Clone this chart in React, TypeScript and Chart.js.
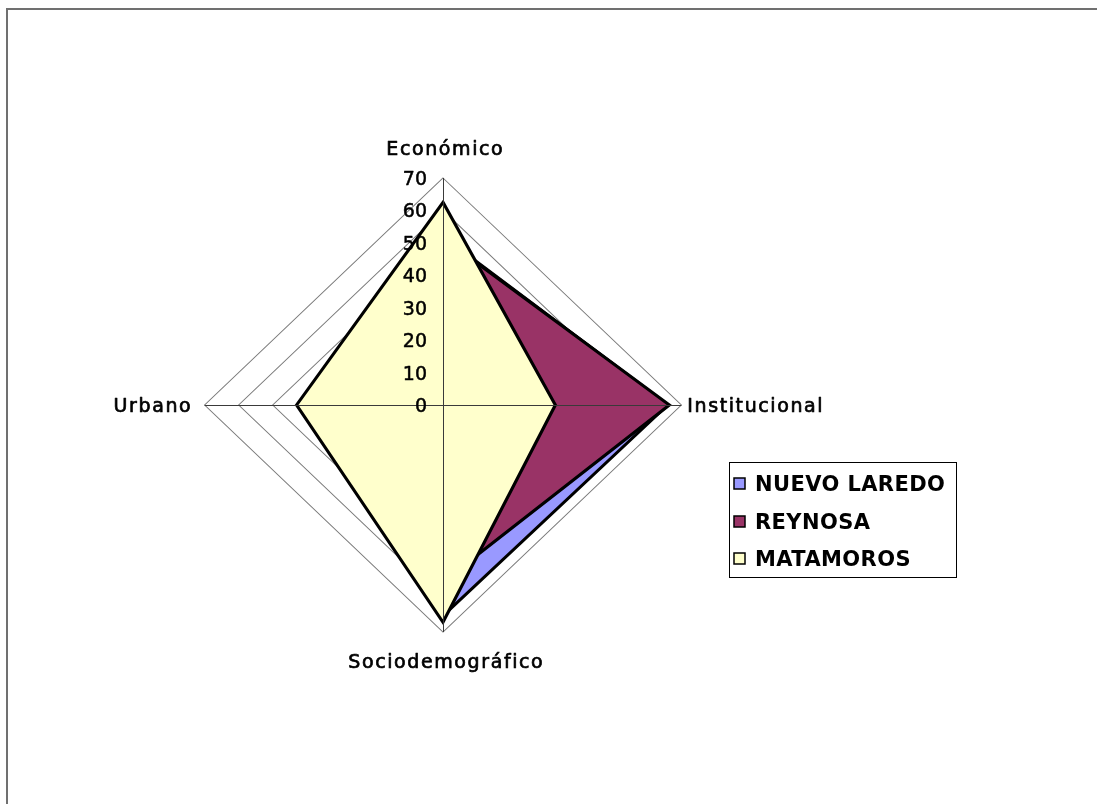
import React, { useEffect, useRef } from 'react';
import { Chart, registerables } from 'chart.js';

Chart.register(...registerables);

// ---- data ----
const CATEGORIES = ['Económico', 'Institucional', 'Sociodemográfico', 'Urbano'];
const SERIES_NAMES = ['NUEVO LAREDO', 'REYNOSA', 'MATAMOROS'];
const NUEVO_LAREDO = [52, 66, 65, 38];
const REYNOSA = [51.5, 66.5, 54.5, 40];
const MATAMOROS = [62.5, 33, 67, 43];
const TICK_VALUES = [0, 10, 20, 30, 40, 50, 60, 70];
const SCALE_MAX = 70;
const COLORS = ['#9999FF', '#993366', '#FFFFCC'];

// ---- page geometry ----
const W = 1097;
const H = 804;
const SX = 1.05; // horizontal stretch of the plot (reference is wider than tall)
const FONT = '"DejaVu Sans", sans-serif';

function drawText(
  ctx: CanvasRenderingContext2D,
  text: string,
  x: number,
  y: number,
  align: 'left' | 'center' | 'right',
  font: string,
  ls: number,
  stroke: number
) {
  ctx.save();
  ctx.font = font;
  (ctx as any).letterSpacing = ls + 'px';
  ctx.textAlign = 'left';
  ctx.textBaseline = 'alphabetic';
  ctx.fillStyle = '#000';
  const w = ctx.measureText(text).width - ls;
  let left = x;
  if (align === 'center') left = x - w / 2;
  else if (align === 'right') left = x - w;
  ctx.fillText(text, left, y);
  if (stroke > 0) {
    ctx.strokeStyle = '#000';
    ctx.lineWidth = stroke;
    ctx.lineJoin = 'round';
    ctx.strokeText(text, left, y);
  }
  ctx.restore();
}

export default function App() {
  const ref = useRef<HTMLCanvasElement>(null);

  useEffect(() => {
    const canvas = ref.current;
    if (!canvas) return;
    const seriesValues = [NUEVO_LAREDO, REYNOSA, MATAMOROS];

    const decor = {
      id: 'decor',
      beforeDraw(chart: any) {
        const ctx: CanvasRenderingContext2D = chart.ctx;
        ctx.save();
        ctx.fillStyle = '#ffffff';
        ctx.fillRect(0, 0, W, H);
        ctx.strokeStyle = '#707070';
        ctx.lineWidth = 2;
        ctx.beginPath();
        ctx.moveTo(7, H);
        ctx.lineTo(7, 9);
        ctx.lineTo(W, 9);
        ctx.stroke();
        ctx.restore();
        const s = chart.scales.r;
        ctx.save();
        ctx.translate(s.xCenter, s.yCenter);
        ctx.scale(SX, 1);
        ctx.translate(-s.xCenter, -s.yCenter);
      },
      afterDatasetsDraw(chart: any) {
        const ctx: CanvasRenderingContext2D = chart.ctx;
        ctx.restore(); // end stretch
        const s = chart.scales.r;
        const cx = s.xCenter;
        const cy = s.yCenter;
        const R = s.drawingArea;
        const rx = R * SX;
        // axis cross drawn above the fills
        ctx.save();
        ctx.strokeStyle = '#3a3a3a';
        ctx.lineWidth = 1;
        ctx.beginPath();
        ctx.moveTo(Math.round(cx) + 0.5, cy - R);
        ctx.lineTo(Math.round(cx) + 0.5, cy + R);
        ctx.moveTo(cx - rx, Math.round(cy) + 0.5);
        ctx.lineTo(cx + rx, Math.round(cy) + 0.5);
        ctx.stroke();
        ctx.restore();

        // value ticks
        const tickFont = `19px ${FONT}`;
        TICK_VALUES.forEach((v) => {
          const y = cy - (v / SCALE_MAX) * R;
          drawText(ctx, String(v), cx - 16, y + 7, 'right', tickFont, 0, 0.5);
        });

        // category labels
        const lblFont = `19px ${FONT}`;
        const ls = 1.6;
        drawText(ctx, CATEGORIES[0], cx + 1.5, cy - R - 23, 'center', lblFont, ls, 0.7);
        drawText(ctx, CATEGORIES[1], cx + rx + 6, cy + 7, 'left', lblFont, ls, 0.7);
        drawText(ctx, CATEGORIES[2], cx + 2.5, cy + R + 36, 'center', lblFont, ls, 0.7);
        drawText(ctx, CATEGORIES[3], cx - rx - 14, cy + 7, 'right', lblFont, ls, 0.7);

        // legend
        ctx.save();
        ctx.fillStyle = '#fff';
        ctx.fillRect(729.5, 462.5, 227, 115);
        ctx.strokeStyle = '#000';
        ctx.lineWidth = 1;
        ctx.strokeRect(729.5, 462.5, 227, 115);
        ctx.restore();
        const rowBase = [491, 529, 566];
        const legFont = `bold 21px ${FONT}`;
        SERIES_NAMES.forEach((name, i) => {
          const by = rowBase[i];
          ctx.save();
          ctx.fillStyle = COLORS[i];
          ctx.fillRect(734, by - 13, 11, 11);
          ctx.strokeStyle = '#000';
          ctx.lineWidth = 1.5;
          ctx.strokeRect(734, by - 13, 11, 11);
          ctx.restore();
          drawText(ctx, name, 755, by, 'left', legFont, 0.4, 0);
        });
      },
    };

    const chart = new Chart(canvas, {
      type: 'radar',
      data: {
        labels: CATEGORIES,
        datasets: SERIES_NAMES.map((name, i) => ({
          label: name,
          data: seriesValues[i],
          backgroundColor: COLORS[i],
          borderColor: '#000000',
          borderWidth: 3,
          borderJoinStyle: 'miter' as const,
          fill: true,
          pointRadius: 0,
          pointHoverRadius: 0,
          tension: 0,
          order: 3 - i,
        })),
      },
      options: {
        responsive: false,
        maintainAspectRatio: false,
        animation: false,
        events: [],
        layout: { padding: { left: 216, top: 178, right: 426, bottom: 172 } },
        plugins: {
          legend: { display: false },
          tooltip: { enabled: false },
          title: { display: false },
        },
        scales: {
          r: {
            min: 0,
            max: SCALE_MAX,
            ticks: { display: false, stepSize: 10 },
            grid: { color: '#7a7a7a', lineWidth: 1 },
            angleLines: { display: false },
            pointLabels: { display: false },
          },
        },
      },
      plugins: [decor],
    });

    return () => chart.destroy();
  }, []);

  return (
    <canvas
      ref={ref}
      width={W}
      height={H}
      style={{ position: 'fixed', left: 0, top: 0, width: W, height: H, display: 'block' }}
    />
  );
}
